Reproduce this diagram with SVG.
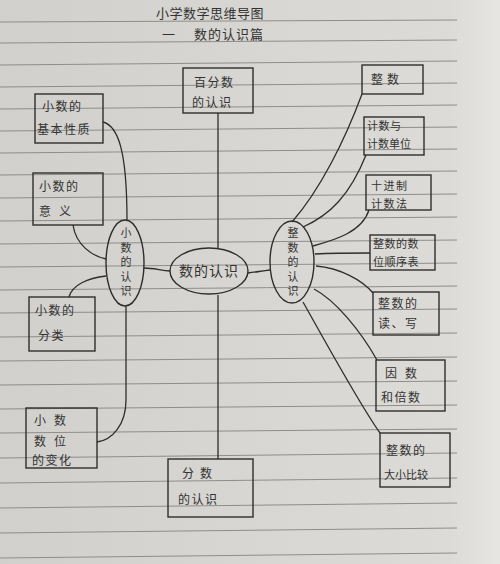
<svg xmlns="http://www.w3.org/2000/svg" width="500" height="564" viewBox="0 0 500 564">
<defs>
<linearGradient id="paper" x1="0" y1="0" x2="1" y2="0">
<stop offset="0" stop-color="#d1d0cc"/>
<stop offset="0.9" stop-color="#dcdbd7"/>
<stop offset="1" stop-color="#e6e5e2"/>
</linearGradient>
<style>
.rule{stroke:#8e8d8a;stroke-width:1;fill:none}
.box{fill:none;stroke:#2e2e2e;stroke-width:1.4}
.oval{fill:none;stroke:#2e2e2e;stroke-width:1.4}
.con{fill:none;stroke:#2e2e2e;stroke-width:1.3}
text{font-family:"Noto Sans CJK SC","Noto Sans",sans-serif;fill:#333;font-size:12px;letter-spacing:1.5px}
.t{font-size:11px}
.c{text-anchor:middle}
.v{writing-mode:vertical-rl;text-anchor:middle;font-size:11px;letter-spacing:3.5px}
</style>
</defs>
<rect width="500" height="564" fill="url(#paper)"/>
<g id="paper-lines">
<path class="rule" d="M0,22 L457,20 M0,43 L457,40 M0,65 L457,61 M0,87 L457,83 M0,109 L457,105 M0,131 L457,127 M0,153 L457,149 M0,175 L457,171 M0,198 L457,194 M0,221 L457,217 M0,244 L457,240 M0,267 L457,263 M0,290 L457,286 M0,313 L457,309 M0,337 L457,333 M0,361 L457,357 M0,385 L457,381 M0,409 L457,405 M0,433 L457,429 M0,458 L457,453 M0,483 L457,478 M0,508 L457,503 M0,533 L457,528 M0,558 L457,553"/>
</g>
<g id="title">
<text x="210" y="18" class="c" style="font-size:13px;letter-spacing:0.5px">小学数学思维导图</text>
<text x="162" y="39" style="font-size:13px">一</text>
<text x="229" y="39" class="c" style="font-size:13px;letter-spacing:1px">数的认识篇</text>
</g>
<g id="connectors">
<path class="con" d="M218,113 L218,248 M218,295 L218,459"/>
<path class="con" d="M144,268 C152,268 160,270 170,271"/>
<path class="con" d="M248,273 C256,272 262,271 270,270"/>
<path class="con" d="M103,122 C118,126 127,150 127,221"/>
<path class="con" d="M73,225 C76,245 92,256 106,259"/>
<path class="con" d="M106,276 C88,278 72,285 69,297"/>
<path class="con" d="M126,306 L126,400 C126,425 112,440 97,442"/>
<path class="con" d="M362,94 C345,140 320,190 292,222"/>
<path class="con" d="M366,155 C350,195 330,215 303,227"/>
<path class="con" d="M369,210 C362,232 335,240 313,246"/>
<path class="con" d="M315,254 C335,253 352,253 370,253"/>
<path class="con" d="M316,266 C340,268 362,280 373,293"/>
<path class="con" d="M314,289 C335,300 360,330 377,360"/>
<path class="con" d="M303,302 C330,350 360,405 380,433"/>
</g>
<g id="n-center">
<ellipse class="oval" cx="209" cy="271" rx="39" ry="23"/>
<text x="209" y="276" class="c" style="font-size:14px;letter-spacing:1px">数的认识</text>
</g>
<g id="n-xiaoshu">
<ellipse class="oval" cx="125" cy="263" rx="19" ry="43"/>
<text x="126" y="264" class="v">小数的认识</text>
</g>
<g id="n-zhengshu">
<ellipse class="oval" cx="292" cy="262" rx="22" ry="41"/>
<text x="293" y="264" class="v">整数的认识</text>
</g>
<g id="n-baifenshu">
<rect class="box" x="183" y="68" width="70" height="45"/>
<text x="194" y="87">百分数</text>
<text x="192" y="107">的认识</text>
</g>
<g id="n-fenshu">
<rect class="box" x="168" y="459" width="85" height="58"/>
<text x="182" y="478" style="letter-spacing:6px">分数</text>
<text x="178" y="504">的认识</text>
</g>
<g id="n-jibenxingzhi">
<rect class="box" x="35" y="94" width="68" height="49"/>
<text x="42" y="111">小数的</text>
<text x="37" y="134">基本性质</text>
</g>
<g id="n-yiyi">
<rect class="box" x="33" y="173" width="70" height="52"/>
<text x="39" y="191">小数的</text>
<text x="39" y="216" style="letter-spacing:8px">意义</text>
</g>
<g id="n-fenlei">
<rect class="box" x="29" y="297" width="66" height="54"/>
<text x="35" y="315">小数的</text>
<text x="38" y="340">分类</text>
</g>
<g id="n-shuwei">
<rect class="box" x="26" y="408" width="71" height="60"/>
<text x="34" y="425" style="letter-spacing:8px">小数</text>
<text x="34" y="446" style="letter-spacing:8px">数位</text>
<text x="32" y="465">的变化</text>
</g>
<g id="n-zhengshu-box">
<rect class="box" x="362" y="65" width="61" height="29"/>
<text x="371" y="84" style="letter-spacing:4px">整数</text>
</g>
<g id="n-jishu">
<rect class="box" x="364" y="117" width="60" height="38"/>
<text x="367" y="130" class="t" style="letter-spacing:0.5px">计数与</text>
<text x="367" y="148" class="t" style="letter-spacing:0px">计数单位</text>
</g>
<g id="n-shijinzhi">
<rect class="box" x="366" y="175" width="65" height="35"/>
<text x="371" y="190" class="t">十进制</text>
<text x="371" y="208" class="t">计数法</text>
</g>
<g id="n-shunxubiao">
<rect class="box" x="370" y="235" width="65" height="35"/>
<text x="373" y="248" class="t" style="letter-spacing:0.5px">整数的数</text>
<text x="373" y="266" class="t" style="letter-spacing:0.5px">位顺序表</text>
</g>
<g id="n-duxie">
<rect class="box" x="373" y="292" width="66" height="43"/>
<text x="378" y="308">整数的</text>
<text x="378" y="328">读、写</text>
</g>
<g id="n-yinshu">
<rect class="box" x="376" y="360" width="69" height="51"/>
<text x="385" y="378" style="letter-spacing:8px">因数</text>
<text x="381" y="402">和倍数</text>
</g>
<g id="n-daxiao">
<rect class="box" x="380" y="433" width="70" height="54"/>
<text x="386" y="455">整数的</text>
<text x="384" y="479" class="t" style="letter-spacing:0px">大小比较</text>
</g>
</svg>
